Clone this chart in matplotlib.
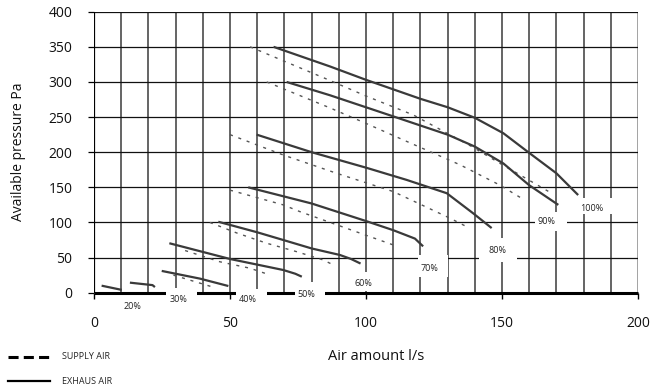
import matplotlib
matplotlib.use("Agg")
import matplotlib.pyplot as plt
from matplotlib.lines import Line2D
from matplotlib.patches import Rectangle

plt.rcParams['font.family'] = ['Open Sans', 'DejaVu Sans']

# ---------- data ----------
# exhaust air (solid), fan speed 20% .. 100%
ex20_x = [2.8, 10.2]
ex20_y = [10, 4]
ex30_x = [13.2, 21.5, 22.4]
ex30_y = [14.3, 10.8, 8.0]
ex40_x = [24.9, 39, 49.4]
ex40_y = [31, 20, 9.5]
ex50_x = [27.7, 50, 69.6, 74, 76.4]
ex50_y = [70.4, 48, 32.3, 27, 22.8]
ex60_x = [45.7, 60, 69.6, 80, 90.4, 94.5, 98]
ex60_y = [101, 86, 75, 63, 53.7, 48, 41.5]
ex70_x = [56.7, 80, 100, 110, 118, 121]
ex70_y = [150, 127, 102, 89, 77, 66]
ex80_x = [59.8, 80, 100, 115, 129.7, 139.4, 146.2]
ex80_y = [225, 200, 178, 160.5, 141.6, 113, 92]
ex90_x = [70.8, 86.8, 110, 130, 140, 150.5, 160, 170.7]
ex90_y = [300, 281, 251, 225, 208, 184, 153, 125]
ex100_x = [66, 86.8, 100, 120, 130, 140, 150.5, 160, 170, 178]
ex100_y = [350, 322, 303, 276, 264, 249, 227, 199, 170, 139]

# supply air (dashed)
su40_x = [29.2, 43.3]
su40_y = [25, 8.5]
su50_x = [33.5, 46.3, 57.4, 64.7]
su50_y = [60, 44, 34.8, 25.2]
su60_x = [42.6, 52.5, 63.5, 74.5, 84.3, 88]
su60_y = [100, 85, 70.4, 58.4, 46.6, 39.5]
su70_x = [50, 69.6, 75.7, 92.9, 110]
su70_y = [146, 125, 115.4, 91.6, 68]
su80_x = [50, 69.6, 89.2, 110, 130.9, 137]
su80_y = [225, 196, 170, 144, 106, 94]
su90_x = [63.5, 86.8, 100, 113.7, 134.6, 149.3, 157.8]
su90_y = [300, 263, 241, 217.5, 182, 153, 133]
su100_x = [57.4, 85, 100, 117.4, 138.9, 149.3, 167.6]
su100_y = [350, 305, 280, 253, 208, 184, 143]

pct_labels = ["20%", "30%", "40%", "50%", "60%", "70%", "80%", "90%", "100%"]
pct_x = [14.3, 31, 56.4, 78, 99, 123.2, 148.4, 166.4, 183]
pct_y = [-19, -9.4, -10, -2, 12.4, 33.8, 59.8, 101, 120]

exhaust = [(ex20_x, ex20_y), (ex30_x, ex30_y), (ex40_x, ex40_y), (ex50_x, ex50_y),
           (ex60_x, ex60_y), (ex70_x, ex70_y), (ex80_x, ex80_y), (ex90_x, ex90_y),
           (ex100_x, ex100_y)]
supply = [(su40_x, su40_y), (su50_x, su50_y), (su60_x, su60_y), (su70_x, su70_y),
          (su80_x, su80_y), (su90_x, su90_y), (su100_x, su100_y)]

# white boxes behind the % labels (x0, x1, y0, y1), layout only
boxes = [None, (26.4, 38, -24, 6.5), (52.1, 63.5, -24, 5.5), (73.9, 84.9, -19, 15),
         (94.9, 105.1, 2.5, 29), (119.1, 130.1, 22, 53.5), (141.5, 155.5, 44, 78),
         (162.1, 173.9, 88, 115), (177.9, 191.5, 112, 135)]

# ---------- figure ----------
fig = plt.figure(figsize=(6.6, 3.92), dpi=100)
ax = fig.add_axes([94 / 660, 1 - 292.7 / 392, 544 / 660, 281 / 392])
ax.set_xlim(0, 200)
ax.set_ylim(0, 400)
ax.set_axisbelow(True)
for s in ax.spines.values():
    s.set_visible(False)

# grid
for gx in range(0, 201, 10):
    col = '#8a8a8a' if gx == 200 else '#3a3a3a'
    ax.plot([gx, gx], [0, 400], color=col, lw=1.1, zorder=0.8, solid_capstyle='butt')
for gy in range(50, 401, 50):
    ax.plot([0, 200], [gy, gy], color='#111111', lw=0.9, zorder=0.8, solid_capstyle='butt')
ax.plot([0, 0], [0, 400], color='black', lw=1.6, zorder=1, solid_capstyle='butt')
ax.plot([0, 200], [0, 0], color='black', lw=2.2, zorder=1, clip_on=False, solid_capstyle='butt')

ax.set_xticks([0, 50, 100, 150, 200])
ax.set_yticks(range(0, 401, 50))
ax.tick_params(axis='x', direction='out', length=4, width=1, color='black',
               pad=13, labelsize=10, labelcolor='#111111')
ax.tick_params(axis='y', direction='out', length=4.5, width=0.9, color='black',
               pad=11, labelsize=10, labelcolor='#111111')

# label boxes
for b in boxes:
    if b is None:
        continue
    ax.add_patch(Rectangle((b[0], b[2]), b[1] - b[0], b[3] - b[2], facecolor='white',
                           edgecolor='none', zorder=2, clip_on=False))

# curves
for xs, ys in supply:
    ax.plot(xs, ys, color='#555555', lw=1.0, linestyle=(0, (2.2, 4.2)), zorder=3)
for xs, ys in exhaust:
    ax.plot(xs, ys, color='#3a3a3a', lw=1.6, zorder=3.5, solid_capstyle='butt')

for lab, lx, ly in zip(pct_labels, pct_x, pct_y):
    ax.text(lx, ly, lab, fontsize=6.5, color='#222222', ha='center', va='center',
            zorder=4, clip_on=False)

# axis titles
fig.text(376 / 660, 1 - 357 / 392, "Air amount l/s", fontsize=10.5, color='#111111',
         ha='center', va='center')
fig.text(19 / 660, 1 - 152 / 392, "Available pressure Pa", fontsize=10, color='#111111',
         ha='center', va='center', rotation=90)

# legend
fig.add_artist(Line2D([8 / 660, 49 / 660], [1 - 356.7 / 392] * 2, transform=fig.transFigure,
                      color='black', lw=2.2, linestyle=(0, (3.3, 1.7))))
fig.add_artist(Line2D([8 / 660, 50 / 660], [1 - 381 / 392] * 2, transform=fig.transFigure,
                      color='black', lw=1.6))
fig.text(61.5 / 660, 1 - 356.7 / 392, "SUPPLY AIR", fontsize=6.5, color='#222222',
         ha='left', va='center')
fig.text(61.5 / 660, 1 - 381 / 392, "EXHAUS AIR", fontsize=6.5, color='#222222',
         ha='left', va='center')

fig.savefig("out.png", dpi=100)
